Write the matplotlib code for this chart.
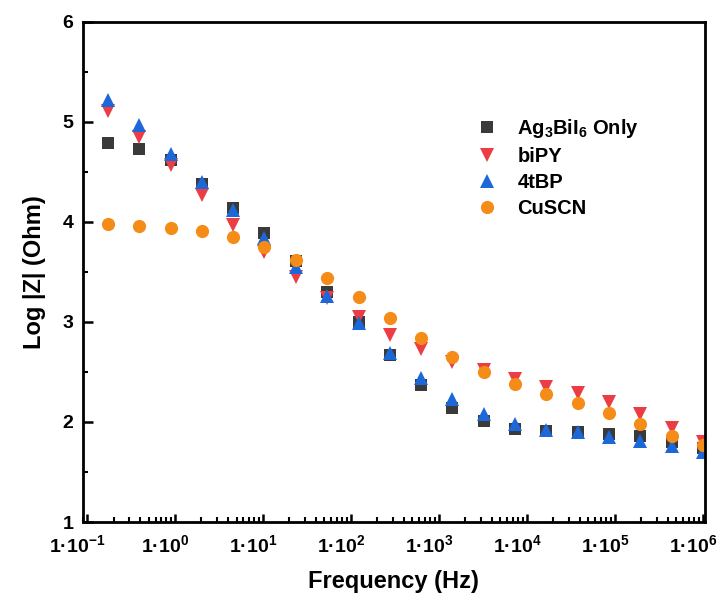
import numpy as np
import matplotlib
matplotlib.use("Agg")
import matplotlib.pyplot as plt
from matplotlib.transforms import ScaledTranslation
from matplotlib.ticker import FixedLocator, FuncFormatter, LogLocator, NullFormatter, MultipleLocator

plt.rcParams['font.family'] = ['Liberation Sans', 'DejaVu Sans']
plt.rcParams['font.weight'] = 'bold'
plt.rcParams['mathtext.fontset'] = 'custom'
plt.rcParams['mathtext.rm'] = 'Liberation Sans:bold'
plt.rcParams['mathtext.bf'] = 'Liberation Sans:bold'
plt.rcParams['mathtext.default'] = 'rm'

# frequency points (Hz), low -> high
freq = [0.173, 0.393, 0.891, 2.02, 4.59, 10.4, 23.6, 53.6, 122, 276,
        627, 1420, 3230, 7330, 1.66e4, 3.77e4, 8.56e4, 1.94e5, 4.41e5, 1.0e6]

# log|Z| for each sample
ag_only = [4.79, 4.73, 4.62, 4.38, 4.14, 3.89, 3.61, 3.30, 3.00, 2.67,
           2.37, 2.14, 2.01, 1.93, 1.91, 1.90, 1.88, 1.86, 1.80, 1.74]
bipy = [5.11, 4.85, 4.57, 4.27, 3.97, 3.70, 3.45, 3.24, 3.05, 2.87,
        2.73, 2.60, 2.52, 2.43, 2.35, 2.29, 2.20, 2.08, 1.94, 1.80]
tbp = [5.22, 4.97, 4.68, 4.40, 4.12, 3.84, 3.55, 3.26, 2.99, 2.69,
       2.44, 2.23, 2.08, 1.98, 1.92, 1.90, 1.85, 1.81, 1.76, 1.70]
cuscn = [3.98, 3.96, 3.94, 3.91, 3.85, 3.75, 3.62, 3.44, 3.25, 3.04,
         2.84, 2.65, 2.50, 2.38, 2.28, 2.19, 2.09, 1.98, 1.86, 1.77]

labels = [r'Ag$_3$BiI$_6$ Only', 'biPY', '4tBP', 'CuSCN']
xtick_pos = [1e-1, 1e0, 1e1, 1e2, 1e3, 1e4, 1e5, 1e6]

fig = plt.figure(figsize=(7.22, 6.01), dpi=100)
ax = fig.add_axes([0.115, 0.1314, 0.861, 0.8323])

ax.plot(freq, ag_only, 's', color='#3a3a3a', ms=8, mew=0, label=labels[0])
ax.plot(freq, bipy, 'v', color='#ec3c44', ms=10.5, mew=0, label=labels[1])
ax.plot(freq, tbp, '^', color='#1c68d8', ms=10.5, mew=0, label=labels[2])
ax.plot(freq, cuscn, 'o', color='#f68c18', ms=9.5, mew=0, label=labels[3])

ax.set_xscale('log')
ax.set_xlim(0.09, 1.05e6)
ax.set_ylim(1, 6)

ax.xaxis.set_major_locator(FixedLocator(xtick_pos))
ax.xaxis.set_major_formatter(FuncFormatter(lambda v, p: '1·10$^{%d}$' % round(np.log10(v))))
ax.xaxis.set_minor_locator(LogLocator(base=10, subs=np.arange(2, 10), numticks=20))
ax.xaxis.set_minor_formatter(NullFormatter())
ax.yaxis.set_major_locator(MultipleLocator(1))
ax.yaxis.set_minor_locator(MultipleLocator(0.5))

ax.tick_params(which='major', direction='in', length=6, width=1.8, labelsize=14)
ax.tick_params(which='minor', direction='in', length=3.5, width=1.5)
ax.tick_params(axis='x', which='major', pad=9)
ax.tick_params(axis='y', which='major', length=7, pad=7)
for s in ax.spines.values():
    s.set_linewidth(2)

ax.set_xlabel('Frequency (Hz)', fontsize=17, fontweight='bold', labelpad=10)
ax.set_ylabel('Log |Z| (Ohm)', fontsize=17, fontweight='bold', labelpad=12)

ax.legend(loc='upper left', bbox_to_anchor=(0.621, 0.826), frameon=False,
          fontsize=14.5, handlelength=1.0, handletextpad=1.0,
          labelspacing=0.35, borderaxespad=0)

# x tick labels sit a little left of their ticks in the original
fig.canvas.draw()
shift = ScaledTranslation(-10 / 100, 0, fig.dpi_scale_trans)
for lbl in ax.get_xticklabels():
    lbl.set_transform(lbl.get_transform() + shift)

fig.savefig('out.png', dpi=100)
